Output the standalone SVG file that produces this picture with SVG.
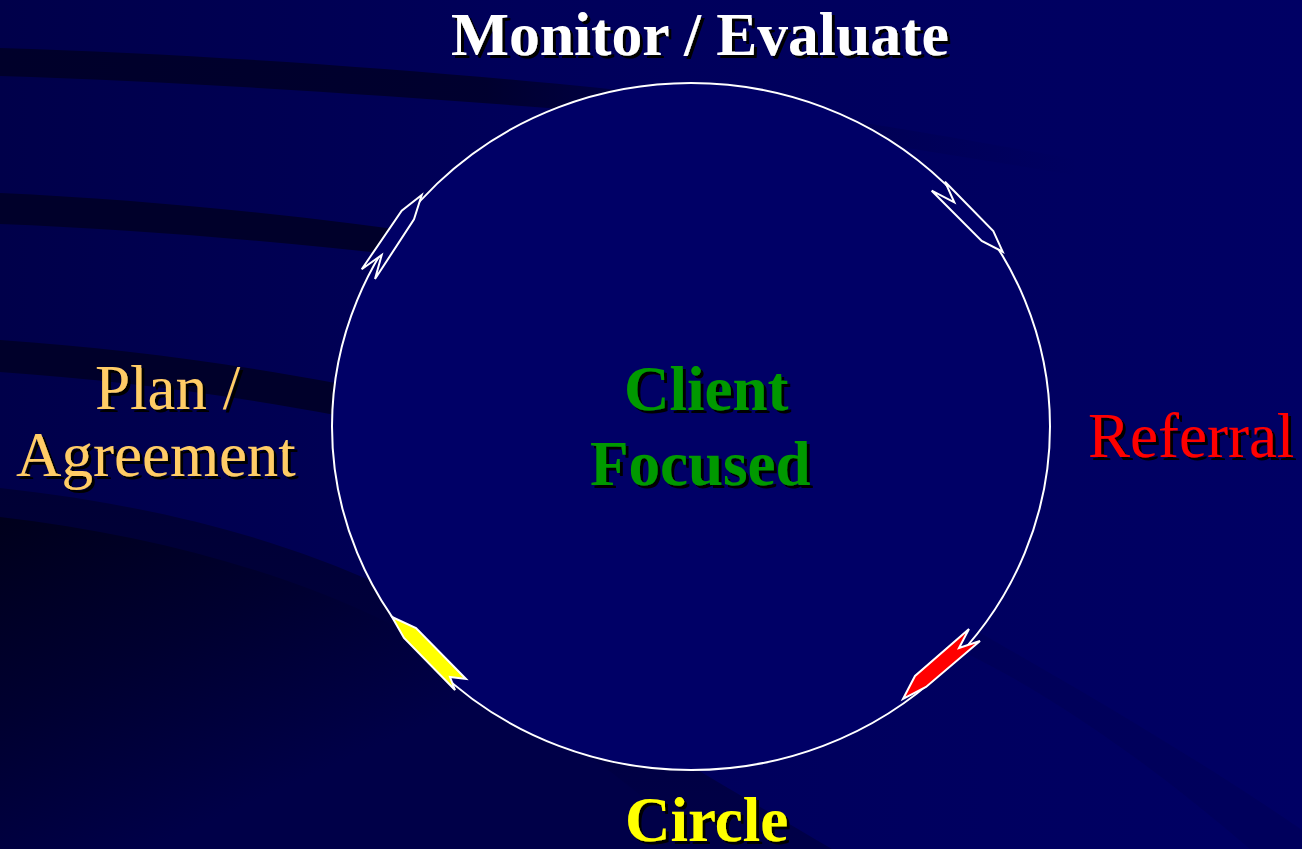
<svg xmlns="http://www.w3.org/2000/svg" width="1302" height="849" viewBox="0 0 1302 849">
  <defs>
    <linearGradient id="bg" x1="0" y1="0" x2="1302" y2="0" gradientUnits="userSpaceOnUse">
      <stop offset="0" stop-color="#00004a"/>
      <stop offset="0.4" stop-color="#00005a"/>
      <stop offset="1" stop-color="#000064"/>
    </linearGradient>
    <linearGradient id="band1" x1="0" y1="0" x2="1080" y2="0" gradientUnits="userSpaceOnUse">
      <stop offset="0" stop-color="#00002a" stop-opacity="1"/>
      <stop offset="0.45" stop-color="#00002a" stop-opacity="0.9"/>
      <stop offset="0.62" stop-color="#00002a" stop-opacity="0.35"/>
      <stop offset="1" stop-color="#00002a" stop-opacity="0"/>
    </linearGradient>
    <linearGradient id="low1" x1="0" y1="490" x2="0" y2="849" gradientUnits="userSpaceOnUse">
      <stop offset="0" stop-color="#000034"/>
      <stop offset="1" stop-color="#000048"/>
    </linearGradient>
    <linearGradient id="low2" x1="0" y1="520" x2="150" y2="849" gradientUnits="userSpaceOnUse">
      <stop offset="0" stop-color="#00001c"/>
      <stop offset="0.5" stop-color="#000030"/>
      <stop offset="1" stop-color="#000048"/>
    </linearGradient>
    <filter id="sh" x="-5%" y="-10%" width="115%" height="140%">
      <feDropShadow dx="3" dy="3" stdDeviation="0" flood-color="#000000" flood-opacity="1"/>
    </filter>
    <style>
      .lbl { font-family: "Liberation Serif", "Times New Roman", serif; font-size: 63px; filter: url(#sh); }
      .b { font-weight: bold; }
      .ring { fill: #000066; stroke: #ffffff; stroke-width: 2; }
      .arr { stroke: #ffffff; stroke-width: 2; stroke-linejoin: miter; }
    </style>
  </defs>

  <!-- background -->
  <rect x="0" y="0" width="1302" height="849" fill="url(#bg)"/>
  <path d="M0,48 C200,54 420,70 600,88 C760,104 900,128 1080,160 L1080,176 C900,146 760,124 600,112 C420,98 200,82 0,76 Z" fill="url(#band1)"/>
  <path d="M0,193 C150,200 300,215 460,238 L460,262 C300,243 150,230 0,224 Z" fill="#00002a"/>
  <path d="M0,340 C140,350 270,368 420,400 L420,432 C270,400 140,382 0,372 Z" fill="#00002a"/>
  <path d="M0,488 C200,510 360,560 500,650 C600,712 700,772 832,849 L0,849 Z" fill="url(#low1)"/>
  <path d="M0,517 C200,540 380,600 500,690 C580,748 650,800 705,849 L0,849 Z" fill="url(#low2)"/>
  <path d="M975,630 C1080,690 1200,760 1302,830 L1302,849 L1250,849 C1170,780 1070,705 970,655 Z" fill="#000030" opacity="0.14"/>

  <!-- cycle: ring and arrow connectors -->
  <g id="connectors">
    <ellipse class="ring" cx="691" cy="426.5" rx="359" ry="343.5"/>
    <polygon class="arr" fill="#000066" points="421.7,195 414,219.3 375,279 381.7,255 361.7,269.3 401.7,210.7"/>
    <polygon class="arr" fill="#000066" points="931.7,190.7 954.3,202.3 945,181.7 993.3,231 1002.7,251.7 981.7,241"/>
    <polygon class="arr" fill="#ff0000" points="969,629 959,648 980,641 926,687 903,699 915,676"/>
    <polygon class="arr" fill="#ffff00" stroke-width="1.5" points="392,617 416,628 466,679 450,677 455,690 404,638"/>
  </g>

  <g id="monitor">
    <text class="lbl b" x="451" y="55" fill="#ffffff" style="font-size:61.5px">Monitor / Evaluate</text>
  </g>
  <g id="client">
    <text class="lbl b" x="624" y="410" fill="#009900">Client</text>
    <text class="lbl b" x="590" y="485" fill="#009900">Focused</text>
  </g>
  <g id="plan">
    <text class="lbl" x="95" y="409" fill="#ffcc66">Plan /</text>
    <text class="lbl" x="16" y="476" fill="#ffcc66">Agreement</text>
  </g>
  <g id="referral">
    <text class="lbl" x="1088" y="457" fill="#ff0000">Referral</text>
  </g>
  <g id="circle">
    <text class="lbl b" x="625" y="841" fill="#ffff00">Circle</text>
  </g>
</svg>
